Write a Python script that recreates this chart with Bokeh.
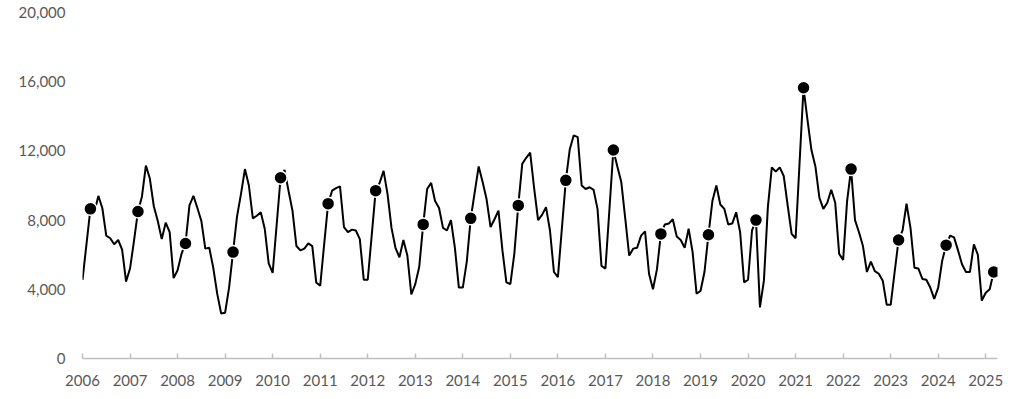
from bokeh.plotting import figure
from bokeh.models import FixedTicker, NumeralTickFormatter, Range1d
from bokeh.embed import file_html
from bokeh.resources import INLINE

years = list(range(2006, 2026))
v2006 = [4550, 6600, 8650, 8450, 9400, 8700, 7100, 6950, 6600, 6850, 6300, 4450]
v2007 = [5200, 6800, 8500, 9350, 11150, 10400, 8800, 7950, 6900, 7850, 7300, 4650]
v2008 = [5100, 6050, 6650, 8850, 9400, 8700, 7950, 6350, 6400, 5250, 3750, 2600]
v2009 = [2650, 4100, 6150, 8200, 9500, 10950, 10000, 8100, 8250, 8450, 7500, 5500]
v2010 = [4950, 7700, 10450, 10900, 9700, 8550, 6500, 6250, 6350, 6650, 6500, 4400]
v2011 = [4200, 6600, 8950, 9700, 9850, 9950, 7600, 7300, 7450, 7400, 6900, 4550]
v2012 = [4550, 7100, 9700, 10150, 10850, 9500, 7550, 6400, 5850, 6850, 5950, 3700]
v2013 = [4300, 5300, 7750, 9800, 10150, 9100, 8700, 7550, 7400, 8000, 6400, 4100]
v2014 = [4100, 5600, 8100, 9600, 11100, 10200, 9200, 7600, 8050, 8550, 6250, 4400]
v2015 = [4300, 6050, 8850, 11250, 11600, 11900, 9850, 8000, 8300, 8750, 7400, 5000]
v2016 = [4700, 7500, 10300, 12100, 12900, 12800, 10000, 9800, 9900, 9750, 8650, 5350]
v2017 = [5200, 8600, 12050, 11100, 10200, 8100, 5950, 6350, 6400, 7100, 7350, 4900]
v2018 = [4000, 5150, 7200, 7750, 7800, 8050, 7050, 6850, 6400, 7500, 6150, 3750]
v2019 = [3900, 5000, 7150, 9100, 10000, 8900, 8650, 7750, 7800, 8450, 7300, 4400]
v2020 = [4550, 7400, 8000, 2950, 4500, 8750, 11050, 10800, 11050, 10550, 8850, 7200]
v2021 = [6950, 11300, 15650, 13800, 12050, 11100, 9300, 8650, 9000, 9750, 9000, 6050]
v2022 = [5700, 9100, 10950, 8000, 7300, 6500, 5000, 5600, 5050, 4900, 4500, 3100]
v2023 = [3100, 5000, 6850, 7400, 8950, 7550, 5250, 5200, 4600, 4550, 4100, 3450]
v2024 = [4100, 5650, 6550, 7100, 7000, 6250, 5450, 5000, 5000, 6600, 6000, 3350]
v2025 = [3800, 4000, 5000]

series = [v2006, v2007, v2008, v2009, v2010, v2011, v2012, v2013, v2014, v2015,
          v2016, v2017, v2018, v2019, v2020, v2021, v2022, v2023, v2024, v2025]

xs, ys = [], []
mx, my = [], []
for yr, vals in zip(years, series):
    for m, v in enumerate(vals):
        xs.append(yr + m / 12)
        ys.append(v)
        if m == 2:
            mx.append(yr + m / 12)
            my.append(v)

y_ticks = [0, 4000, 8000, 12000, 16000, 20000]

FONT = "Lato"
GREY = "#595959"

p = figure(width=1016, height=391, output_backend="svg", toolbar_location=None,
           x_range=Range1d(2006, 2025.247), y_range=Range1d(0, 20000),
           min_border_left=82, min_border_right=19, min_border_top=12, min_border_bottom=33)
p.outline_line_color = None
p.xgrid.grid_line_color = None
p.ygrid.grid_line_color = None
p.background_fill_color = "white"
p.border_fill_color = "white"

p.line(xs, ys, line_color="black", line_width=2)
p.scatter(mx, my, size=13, fill_color="black", line_color="white", line_width=1.5)

xa = p.xaxis[0]
xa.ticker = FixedTicker(ticks=years)
xa.axis_line_color = "#bfbfbf"
xa.axis_line_width = 1.5
xa.major_tick_line_color = "#bfbfbf"
xa.major_tick_line_width = 1.5
xa.major_tick_in = 5
xa.major_tick_out = 0
xa.minor_tick_line_color = None
xa.major_label_text_font = FONT
xa.major_label_text_font_size = "15px"
xa.major_label_text_color = GREY
xa.major_label_standoff = 16

ya = p.yaxis[0]
ya.ticker = FixedTicker(ticks=y_ticks)
ya.formatter = NumeralTickFormatter(format="0,0")
ya.axis_line_color = None
ya.major_tick_line_color = None
ya.major_tick_in = 0
ya.major_tick_out = 0
ya.minor_tick_line_color = None
ya.major_label_text_font = FONT
ya.major_label_text_font_size = "15px"
ya.major_label_text_color = GREY
ya.major_label_standoff = 17

open("out.html", "w").write(file_html(p, INLINE))
